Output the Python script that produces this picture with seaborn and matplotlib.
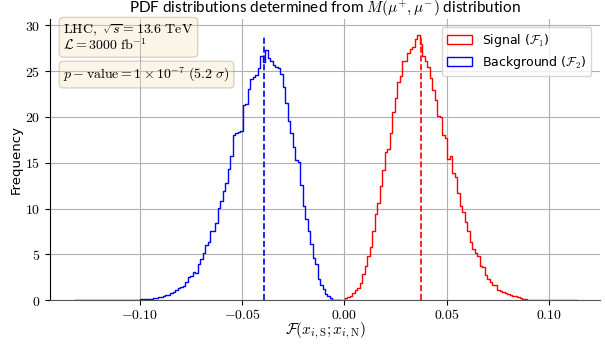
import numpy as np
import pandas as pd
import matplotlib
matplotlib.use("Agg")
import matplotlib.pyplot as plt
import seaborn as sns
from matplotlib.patches import Patch

# histogram settings
bin_width = 0.00122
bkg_start = -0.13139
sig_start = -0.00816

bkg_counts = [
    0.02, 0.0, 0.02, 0.02, 0.02, 0.02,
    0.02, 0.02, 0.03, 0.02, 0.03, 0.03, 0.03, 0.02, 0.04, 0.03,
    0.04, 0.04, 0.05, 0.04, 0.05, 0.06, 0.05, 0.07, 0.06, 0.07,
    0.08, 0.10, 0.10, 0.12, 0.18, 0.22, 0.28, 0.32, 0.38, 0.42,
    0.52, 0.58, 0.75, 0.9, 1.1, 1.3, 1.4, 1.55, 2.0, 2.5, 2.6, 3.1,
    3.0, 3.9, 4.5, 5.1, 6.0, 6.3, 7.5, 7.5, 8.4, 10.1, 10.8, 11.9,
    12.8, 14.3, 15.7, 18.0, 18.2, 18.4, 18.5, 21.3, 21.4, 23.1, 24.2,
    24.4, 24.6, 25.4, 26.7, 26.0, 27.3, 26.4, 26.1, 25.7, 25.5, 25.3,
    24.7, 23.3, 21.5, 19.6, 18.2, 16.7, 15.3, 15.1, 12.6, 10.3, 8.9,
    7.5, 6.1, 4.6, 3.9, 2.3, 1.7, 1.2, 0.65, 0.5, 0.2, 0.07, 0.04, 0.02,
]

sig_counts = [
    0.01, 0.02, 0.02, 0.03, 0.03, 0.04,
    0.07, 0.2, 0.35, 0.5, 0.8, 1.1, 1.3, 1.9, 2.9, 3.7, 4.8, 5.8,
    7.5, 9.4, 10.6, 12.5, 14.2, 16.2, 16.5, 18.2, 20.5, 22.1, 23.8,
    24.5, 26.1, 26.1, 27.0, 27.4, 27.6, 28.5, 29.0, 28.0, 26.7, 26.1,
    25.5, 24.3, 22.9, 21.8, 20.1, 20.0, 18.0, 17.7, 15.4, 15.7, 13.9,
    13.4, 11.7, 10.3, 9.6, 8.5, 7.6, 6.3, 5.6, 5.1, 4.8, 3.7, 3.6,
    2.8, 2.3, 2.0, 1.7, 1.6, 1.1, 1.0, 0.9, 0.8, 0.65, 0.6, 0.5, 0.4,
    0.3, 0.2, 0.1,
    0.08, 0.07, 0.06, 0.05, 0.05, 0.04, 0.04, 0.03, 0.03, 0.03, 0.02,
    0.02, 0.02, 0.01, 0.02, 0.01, 0.01, 0.01, 0.01, 0.01, 0.01,
]

bkg_mean = -0.0390
sig_mean = 0.0375

xticks = [-0.10, -0.05, 0.00, 0.05, 0.10]
yticks = [0, 5, 10, 15, 20, 25, 30]

plt.rcParams["mathtext.fontset"] = "cm"
plt.rcParams["font.family"] = "DejaVu Sans"

fig, ax = plt.subplots(figsize=(6.05, 3.45), dpi=100)
fig.subplots_adjust(left=0.083, right=0.992, bottom=0.13, top=0.945)


def hist_frame(start, counts):
    edges = start + bin_width * np.arange(len(counts) + 1)
    df = pd.DataFrame({"x": edges[:-1] + bin_width / 2, "w": counts})
    return df, edges


bkg_df, bkg_edges = hist_frame(bkg_start, bkg_counts)
sig_df, sig_edges = hist_frame(sig_start, sig_counts)

sns.histplot(data=bkg_df, x="x", weights="w", bins=list(bkg_edges),
             element="step", fill=False, color="blue", linewidth=1, ax=ax)
sns.histplot(data=sig_df, x="x", weights="w", bins=list(sig_edges),
             element="step", fill=False, color="red", linewidth=1, ax=ax)

top = max(sig_counts)
ax.vlines(bkg_mean, 0, top, colors="blue", linestyles="--", linewidth=1.2)
ax.vlines(sig_mean, 0, top, colors="red", linestyles="--", linewidth=1.2)

ax.set_xlim(-0.1437, 0.1251)
ax.set_ylim(0, 30.7)
ax.set_xticks(xticks)
ax.set_xticklabels([r"$%.2f$" % t if t != 0 else r"$0.00$" for t in xticks], fontsize=10)
ax.set_yticks(yticks)
ax.set_yticklabels([r"$%d$" % t for t in yticks], fontsize=10)
ax.tick_params(axis="x", pad=2)
ax.grid(True, color="#b0b0b0", linewidth=0.8)
ax.set_axisbelow(True)
for s in ["top", "right"]:
    ax.spines[s].set_visible(False)
ax.spines["bottom"].set_color("#555555")

ax.set_title(r"PDF distributions determined from $M(\mu^{+},\mu^{-})$ distribution",
             fontsize=11, pad=3, family=["Lato", "DejaVu Sans"])
ax.set_xlabel(r"$\mathcal{F}(x_{i,\mathrm{S}};x_{i,\mathrm{N}})$", fontsize=11)
ax.xaxis.set_label_coords(0.5, -0.075)
ax.set_ylabel("Frequency", fontsize=9.5, labelpad=2)

box = dict(boxstyle="round,pad=0.3", facecolor="wheat", edgecolor="#8a7a60", alpha=0.3)
ax.text(0.024, 0.985, r"$\mathrm{LHC},\ \sqrt{s}=13.6\ \mathrm{TeV}$" + "\n" + r"$\mathcal{L}=3000\ \mathrm{fb}^{-1}$",
        transform=ax.transAxes, va="top", ha="left", fontsize=10, bbox=box, linespacing=0.85)
ax.text(0.024, 0.835, r"$p-\mathrm{value}=1\times10^{-7}\ (5.2\ \sigma)$",
        transform=ax.transAxes, va="top", ha="left", fontsize=10, bbox=box)

handles = [Patch(facecolor="none", edgecolor="red", label=r"Signal ($\mathcal{F}_1$)"),
           Patch(facecolor="none", edgecolor="blue", label=r"Background ($\mathcal{F}_2$)")]
ax.legend(handles=handles, loc="upper right", fontsize=9, framealpha=0.8,
          borderaxespad=0.5, bbox_to_anchor=(0.995, 0.995), handlelength=2.0,
          labelspacing=0.4)

fig.savefig("out.png", dpi=100)
